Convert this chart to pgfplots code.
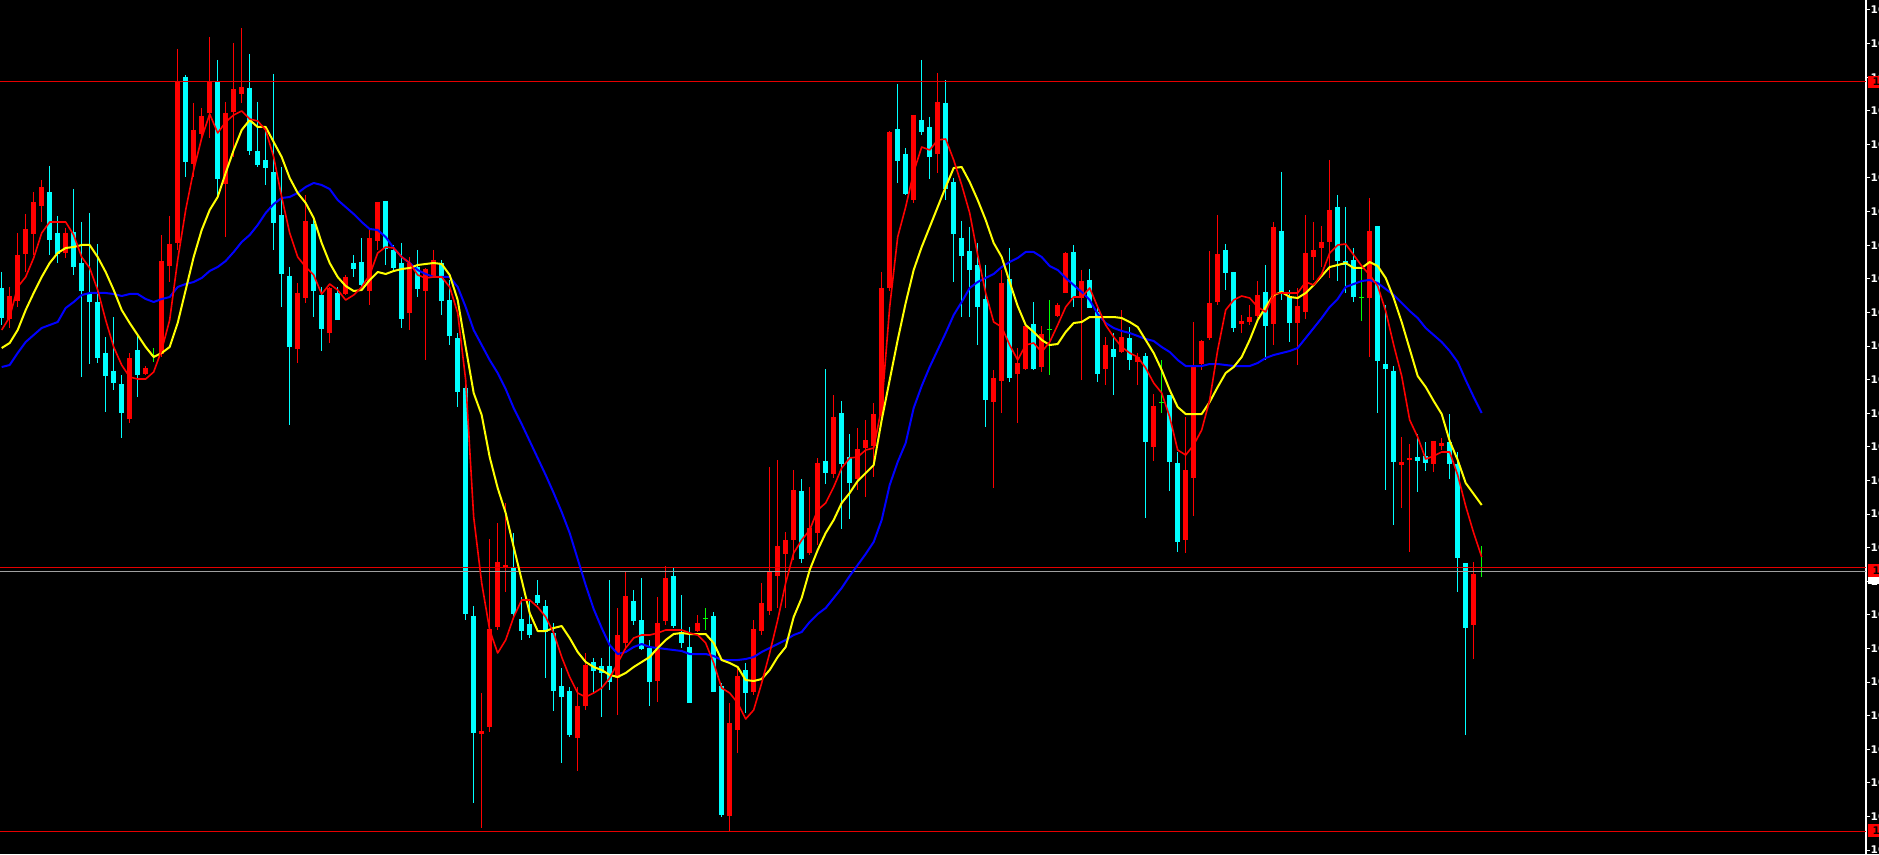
\documentclass[border=0pt]{standalone}
\usepackage{pgfplots}
\pgfplotsset{compat=1.18}
\usepackage{pgfplotstable}
\usepackage{fontspec}
\setmainfont{DejaVu Sans}

\definecolor{upc}{RGB}{255,0,0}
\definecolor{dnc}{RGB}{0,255,255}
\definecolor{dojic}{RGB}{0,255,0}
\definecolor{maf}{RGB}{255,0,0}
\definecolor{mam}{RGB}{255,255,0}
\definecolor{mas}{RGB}{0,0,255}
\definecolor{lvl}{RGB}{230,0,0}
\definecolor{bidc}{RGB}{160,160,160}

\pgfplotsset{
  isdown/.style={restrict expr to domain={\thisrow{t}}{-0.5:0.5}},
  isup/.style={restrict expr to domain={\thisrow{t}}{0.5:1.5}},
  isdoji/.style={restrict expr to domain={\thisrow{t}}{1.5:2.5}},
  wick/.style={line width=0.1mm, line cap=butt,
    quiver={u=0, v=\thisrow{lo}-\thisrow{hi}}},
  body/.style={line width=0.5mm, line cap=butt,
    quiver={u=0, v=\thisrow{bot}-\thisrow{top}+1}},
}

% candles: index, body top, body bottom, high, low (screen rows, top = 0)
% t = 1 up (red), 0 down (cyan), 2 doji
\pgfplotstableread{
i top bot hi lo t
0 288 317 272 325 0
1 296 318 287 328 1
2 255 300 233 307 1
3 229 253 214 272 1
4 202 233 192 255 1
5 187 205 180 222 1
6 192 239 166 255 0
7 233 253 216 263 0
8 233 252 228 258 1
9 232 266 189 275 0
10 263 290 222 377 0
11 294 301 213 364 0
12 302 357 244 363 0
13 353 375 337 412 0
14 371 382 317 390 0
15 384 412 375 438 0
16 358 418 353 423 1
17 350 374 335 397 0
18 368 373 366 375 1
19 355 355 348 362 2
20 261 353 235 357 1
21 244 265 216 282 1
22 82 242 49 250 1
23 77 161 75 177 0
24 130 163 103 177 1
25 116 133 108 138 1
26 82 112 37 138 1
27 82 178 60 195 0
28 113 183 102 237 1
29 89 111 43 157 1
30 87 93 28 103 1
31 88 150 54 155 0
32 151 164 102 167 0
33 160 167 130 185 0
34 172 222 74 250 0
35 215 273 167 307 0
36 276 346 267 425 0
37 293 348 283 363 1
38 221 297 195 303 1
39 224 290 217 317 0
40 295 328 287 351 0
41 288 332 287 343 1
42 293 319 287 320 0
43 277 293 275 295 1
44 263 268 255 277 0
45 262 284 238 290 0
46 238 290 230 305 1
47 202 240 202 250 1
48 201 248 201 265 0
49 250 267 245 270 0
50 263 318 243 328 0
51 263 312 257 330 1
52 267 288 250 297 0
53 269 290 268 360 1
54 260 275 250 278 1
55 263 300 260 315 0
56 300 335 280 345 0
57 338 391 333 407 0
58 388 613 385 620 0
59 616 732 606 803 0
60 731 733 693 828 1
61 629 726 539 732 1
62 562 626 523 630 1
63 565 567 503 592 1
64 568 613 533 617 0
65 619 630 597 640 0
66 624 634 600 638 0
67 595 602 580 605 0
68 606 631 600 678 0
69 633 690 623 711 0
70 686 696 668 763 0
71 691 734 687 737 0
72 706 737 687 771 1
73 665 705 653 710 1
74 662 670 658 693 0
75 666 672 658 717 0
76 666 681 580 690 0
77 635 677 608 715 1
78 596 642 572 650 1
79 601 620 590 625 0
80 620 648 578 650 0
81 648 681 640 706 0
82 623 680 597 702 1
83 578 620 566 625 1
84 576 625 568 628 0
85 632 642 595 648 0
86 647 702 627 702 0
87 623 630 615 632 1
88 618 618 608 630 2
89 616 691 612 692 0
90 686 814 683 817 0
91 723 815 703 831 1
92 676 729 668 753 1
93 670 692 663 713 0
94 629 691 620 695 1
95 603 630 583 635 1
96 572 610 467 615 1
97 546 575 460 608 1
98 540 553 532 608 1
99 490 539 470 560 1
100 491 558 479 563 0
101 528 552 487 555 1
102 463 532 458 545 1
103 461 472 369 484 0
104 417 473 395 478 1
105 413 463 401 529 0
106 457 482 434 519 0
107 449 478 428 490 1
108 440 447 420 497 1
109 414 445 403 477 1
110 288 414 272 420 1
111 132 287 131 291 1
112 129 160 84 183 0
113 154 193 148 195 0
114 115 199 115 203 1
115 120 131 60 135 0
116 127 156 117 179 0
117 102 153 73 173 1
118 103 188 80 200 0
119 182 233 178 282 0
120 238 255 221 317 0
121 251 269 227 317 0
122 265 306 243 345 0
123 299 399 265 427 0
124 378 401 370 488 1
125 283 380 270 413 1
126 279 377 248 382 0
127 363 373 348 423 1
128 326 368 325 370 1
129 324 368 302 370 0
130 334 366 326 372 1
131 329 329 300 375 2
132 305 315 303 317 1
133 253 292 252 293 1
134 252 297 245 307 0
135 281 297 270 380 1
136 280 307 269 307 0
137 312 373 307 382 0
138 345 368 337 385 1
139 349 356 333 395 0
140 337 351 310 353 1
141 338 359 327 370 0
142 357 361 353 385 1
143 356 441 353 518 0
144 406 446 394 461 1
145 402 402 360 413 2
146 395 461 395 491 0
147 463 541 452 552 0
148 470 539 417 553 1
149 365 477 322 516 1
150 341 363 340 370 1
151 303 337 251 340 1
152 254 301 215 305 1
153 250 272 244 290 0
154 272 327 272 332 0
155 321 323 315 333 1
156 317 321 305 325 1
157 295 315 281 318 1
158 292 325 265 360 0
159 227 323 222 345 1
160 231 292 172 300 0
161 297 322 290 342 0
162 306 322 288 365 1
163 253 311 215 319 1
164 250 256 222 280 1
165 242 247 226 267 1
166 210 241 160 278 1
167 207 260 195 281 0
168 261 264 207 293 0
169 260 296 248 302 0
170 298 298 265 321 2
171 231 297 198 357 1
172 226 360 226 413 0
173 364 368 305 490 0
174 371 461 366 525 0
175 462 464 437 508 1
176 458 459 444 552 1
177 457 460 434 492 0
178 456 462 442 471 0
179 441 463 441 472 1
180 443 445 438 450 1
181 442 463 414 479 0
182 464 557 452 592 0
183 563 627 563 735 0
184 574 624 562 659 1
185 571 571 546 577 2
}\candles

% fast MA (red)
\pgfplotstableread[row sep=\\]{
i y\\ 0 330\\ 1 317\\ 2 287\\ 3 277\\ 4 258\\ 5 233\\ 6 222\\ 7 222\\ 8 222\\ 9 235\\
10 257\\ 11 268\\ 12 290\\ 13 320\\ 14 347\\ 15 365\\ 16 377\\ 17 379\\ 18 379\\ 19 372\\
20 350\\ 21 320\\ 22 260\\ 23 210\\ 24 170\\ 25 138\\ 26 114\\ 27 133\\ 28 122\\ 29 115\\
30 111\\ 31 119\\ 32 121\\ 33 130\\ 34 157\\ 35 197\\ 36 233\\ 37 257\\ 38 267\\ 39 275\\
40 294\\ 41 284\\ 42 290\\ 43 300\\ 44 295\\ 45 287\\ 46 275\\ 47 253\\ 48 247\\ 49 248\\
50 257\\ 51 263\\ 52 275\\ 53 278\\ 54 277\\ 55 277\\ 56 287\\ 57 313\\ 58 380\\ 59 517\\
60 583\\ 61 630\\ 62 653\\ 63 640\\ 64 617\\ 65 600\\ 66 600\\ 67 607\\ 68 617\\ 69 633\\
70 657\\ 71 677\\ 72 693\\ 73 697\\ 74 693\\ 75 688\\ 76 678\\ 77 663\\ 78 648\\ 79 638\\
80 635\\ 81 635\\ 82 633\\ 83 630\\ 84 630\\ 85 630\\ 86 633\\ 87 635\\ 88 643\\ 89 663\\
90 688\\ 91 693\\ 92 703\\ 93 719\\ 94 710\\ 95 683\\ 96 653\\ 97 620\\ 98 583\\ 99 553\\
100 540\\ 101 530\\ 102 510\\ 103 503\\ 104 487\\ 105 468\\ 106 458\\ 107 457\\ 108 450\\ 109 448\\
110 407\\ 111 307\\ 112 237\\ 113 207\\ 114 172\\ 115 147\\ 116 150\\ 117 140\\ 118 139\\ 119 160\\
120 185\\ 121 213\\ 122 255\\ 123 293\\ 124 322\\ 125 327\\ 126 345\\ 127 360\\ 128 345\\ 129 343\\
130 352\\ 131 342\\ 132 325\\ 133 307\\ 134 297\\ 135 297\\ 136 288\\ 137 307\\ 138 325\\ 139 337\\
140 347\\ 141 353\\ 142 357\\ 143 368\\ 144 383\\ 145 393\\ 146 417\\ 147 450\\ 148 455\\ 149 445\\
150 430\\ 151 400\\ 152 350\\ 153 310\\ 154 300\\ 155 296\\ 156 298\\ 157 307\\ 158 312\\ 159 294\\
160 293\\ 161 293\\ 162 293\\ 163 282\\ 164 285\\ 165 274\\ 166 253\\ 167 245\\ 168 244\\ 169 255\\
170 266\\ 171 275\\ 172 286\\ 173 311\\ 174 345\\ 175 376\\ 176 420\\ 177 437\\ 178 459\\ 179 456\\
180 452\\ 181 452\\ 182 475\\ 183 506\\ 184 533\\ 185 557\\
}\mafast

% middle MA (yellow)
\pgfplotstableread[row sep=\\]{
i y\\ 0 348\\ 1 343\\ 2 330\\ 3 310\\ 4 293\\ 5 277\\ 6 263\\ 7 253\\ 8 248\\ 9 247\\
10 245\\ 11 245\\ 12 257\\ 13 272\\ 14 290\\ 15 310\\ 16 323\\ 17 335\\ 18 347\\ 19 357\\
20 353\\ 21 347\\ 22 323\\ 23 290\\ 24 257\\ 25 230\\ 26 210\\ 27 197\\ 28 173\\ 29 150\\
30 130\\ 31 120\\ 32 127\\ 33 127\\ 34 142\\ 35 157\\ 36 178\\ 37 193\\ 38 203\\ 39 218\\
40 243\\ 41 263\\ 42 277\\ 43 286\\ 44 291\\ 45 290\\ 46 280\\ 47 272\\ 48 274\\ 49 271\\
50 269\\ 51 268\\ 52 265\\ 53 264\\ 54 263\\ 55 264\\ 56 275\\ 57 300\\ 58 347\\ 59 393\\
60 415\\ 61 457\\ 62 488\\ 63 513\\ 64 547\\ 65 580\\ 66 613\\ 67 631\\ 68 631\\ 69 628\\
70 626\\ 71 638\\ 72 652\\ 73 662\\ 74 667\\ 75 670\\ 76 675\\ 77 677\\ 78 673\\ 79 667\\
80 662\\ 81 657\\ 82 648\\ 83 640\\ 84 634\\ 85 633\\ 86 634\\ 87 634\\ 88 634\\ 89 643\\
90 660\\ 91 663\\ 92 667\\ 93 680\\ 94 681\\ 95 679\\ 96 670\\ 97 657\\ 98 647\\ 99 617\\
100 598\\ 101 570\\ 102 550\\ 103 533\\ 104 520\\ 105 503\\ 106 493\\ 107 481\\ 108 473\\ 109 465\\
110 420\\ 111 380\\ 112 340\\ 113 303\\ 114 270\\ 115 247\\ 116 227\\ 117 207\\ 118 187\\ 119 168\\
120 167\\ 121 182\\ 122 200\\ 123 220\\ 124 243\\ 125 257\\ 126 282\\ 127 306\\ 128 325\\ 129 332\\
130 340\\ 131 345\\ 132 344\\ 133 332\\ 134 323\\ 135 322\\ 136 317\\ 137 317\\ 138 317\\ 139 317\\
140 318\\ 141 322\\ 142 327\\ 143 340\\ 144 353\\ 145 370\\ 146 390\\ 147 407\\ 148 414\\ 149 414\\
150 414\\ 151 402\\ 152 387\\ 153 373\\ 154 367\\ 155 357\\ 156 340\\ 157 320\\ 158 307\\ 159 295\\
160 292\\ 161 297\\ 162 298\\ 163 293\\ 164 285\\ 165 276\\ 166 267\\ 167 265\\ 168 263\\ 169 268\\
170 268\\ 171 262\\ 172 266\\ 173 278\\ 174 298\\ 175 322\\ 176 349\\ 177 376\\ 178 387\\ 179 401\\
180 414\\ 181 441\\ 182 460\\ 183 483\\ 184 494\\ 185 505\\
}\mamid

% slow MA (blue)
\pgfplotstableread[row sep=\\]{
i y\\ 0 367\\ 1 365\\ 2 353\\ 3 342\\ 4 335\\ 5 328\\ 6 325\\ 7 322\\ 8 308\\ 9 302\\
10 295\\ 11 293\\ 12 293\\ 13 293\\ 14 294\\ 15 296\\ 16 294\\ 17 294\\ 18 299\\ 19 302\\
20 299\\ 21 297\\ 22 287\\ 23 284\\ 24 282\\ 25 278\\ 26 271\\ 27 267\\ 28 261\\ 29 252\\
30 242\\ 31 235\\ 32 225\\ 33 213\\ 34 204\\ 35 198\\ 36 197\\ 37 193\\ 38 187\\ 39 183\\
40 185\\ 41 189\\ 42 200\\ 43 207\\ 44 214\\ 45 222\\ 46 229\\ 47 230\\ 48 237\\ 49 248\\
50 257\\ 51 263\\ 52 270\\ 53 274\\ 54 277\\ 55 277\\ 56 277\\ 57 287\\ 58 307\\ 59 330\\
60 345\\ 61 360\\ 62 373\\ 63 389\\ 64 408\\ 65 424\\ 66 441\\ 67 458\\ 68 475\\ 69 493\\
70 512\\ 71 533\\ 72 559\\ 73 585\\ 74 609\\ 75 628\\ 76 645\\ 77 654\\ 78 652\\ 79 647\\
80 644\\ 81 647\\ 82 648\\ 83 649\\ 84 650\\ 85 651\\ 86 654\\ 87 654\\ 88 654\\ 89 656\\
90 660\\ 91 660\\ 92 660\\ 93 659\\ 94 657\\ 95 652\\ 96 648\\ 97 644\\ 98 640\\ 99 635\\
100 632\\ 101 622\\ 102 614\\ 103 608\\ 104 598\\ 105 588\\ 106 576\\ 107 565\\ 108 554\\ 109 542\\
110 520\\ 111 485\\ 112 462\\ 113 443\\ 114 408\\ 115 386\\ 116 367\\ 117 350\\ 118 333\\ 119 315\\
120 302\\ 121 288\\ 122 282\\ 123 278\\ 124 274\\ 125 267\\ 126 262\\ 127 258\\ 128 252\\ 129 252\\
130 257\\ 131 266\\ 132 270\\ 133 278\\ 134 285\\ 135 292\\ 136 300\\ 137 314\\ 138 323\\ 139 328\\
140 331\\ 141 333\\ 142 336\\ 143 339\\ 144 341\\ 145 347\\ 146 352\\ 147 360\\ 148 366\\ 149 366\\
150 366\\ 151 364\\ 152 364\\ 153 365\\ 154 366\\ 155 366\\ 156 366\\ 157 363\\ 158 358\\ 159 355\\
160 353\\ 161 351\\ 162 348\\ 163 338\\ 164 328\\ 165 318\\ 166 307\\ 167 299\\ 168 287\\ 169 284\\
170 281\\ 171 280\\ 172 283\\ 173 289\\ 174 295\\ 175 303\\ 176 311\\ 177 318\\ 178 328\\ 179 335\\
180 342\\ 181 351\\ 182 362\\ 183 380\\ 184 397\\ 185 413\\
}\maslow

\newcommand\tickfont{\fontsize{3pt}{3.5pt}\selectfont\bfseries}

\begin{document}
\begin{tikzpicture}
\path[use as bounding box] (0,0) rectangle (18.79cm,8.54cm);
\clip (0,0) rectangle (18.79cm,8.54cm);
\fill[black] (0,0) rectangle (18.79cm,8.54cm);
\begin{axis}[
  at={(0,0)}, anchor=south west,
  scale only axis, width=18.66cm, height=8.54cm,
  xmin=-0.21, xmax=233.04, ymin=0, ymax=854, y dir=reverse,
  axis x line=none,
  axis y line*=right,
  axis line style={white, line width=0.13mm, -},
  ytick={10,43.6,...,851},
  yticklabels={10675,10670,10665,10660,10655,10650,10645,10640,10635,10630,10625,10620,10615,
               10610,10605,10600,10595,10590,10585,10580,10575,10570,10565,10560,10555,10550},
  tick align=outside, major tick length=0.4mm,
  tick style={white, line width=0.1mm},
  yticklabel style={text=white, font=\tickfont, inner sep=0pt, anchor=west},
  clip mode=individual,
]
% wicks
\addplot[upc, wick, forget plot, isup] table[x=i, y=hi] {\candles};
\addplot[dnc, wick, forget plot, isdown] table[x=i, y=hi] {\candles};
\addplot[dojic, wick, forget plot, isdoji] table[x=i, y=hi] {\candles};
% bodies
\addplot[upc, body, forget plot, isup] table[x=i, y=top] {\candles};
\addplot[dnc, body, forget plot, isdown] table[x=i, y=top] {\candles};
\addplot[dojic, only marks, mark=-, mark size=0.25mm, forget plot, isdoji,
  mark options={line width=0.1mm}] table[x=i, y=top] {\candles};

% horizontal levels
\addplot[lvl, line width=0.1mm, forget plot] coordinates {(-0.21,82) (233.04,82)};
\addplot[lvl, line width=0.1mm, forget plot] coordinates {(-0.21,567) (233.04,567)};
\addplot[bidc, line width=0.1mm, forget plot] coordinates {(-0.21,571) (233.04,571)};
\addplot[lvl, line width=0.1mm, forget plot] coordinates {(-0.21,831) (233.04,831)};

% moving averages
\addplot[mas, line width=0.2mm, line join=round] table[x=i, y=y] {\maslow};
\addplot[mam, line width=0.2mm, line join=round] table[x=i, y=y] {\mamid};
\addplot[maf, line width=0.16mm, line join=round] table[x=i, y=y] {\mafast};
\end{axis}

% price labels at the right edge (pixel grid, origin top left)
\begin{scope}[x=0.1mm, y=-0.1mm, shift={(0,8.54cm)}]
  \fill[upc] (1867.5,76) rectangle (1890,88);
  \node[anchor=west, inner sep=0pt, font=\tickfont, text=black] at (1872,82) {10663};
  \fill[white] (1867.5,576) rectangle (1890,584);
  \fill[upc] (1867.5,564) rectangle (1890,577);
  \node[anchor=west, inner sep=0pt, font=\tickfont, text=black] at (1872,571) {10590};
  \fill[upc] (1867.5,824) rectangle (1890,837);
  \node[anchor=west, inner sep=0pt, font=\tickfont, text=black] at (1872,831) {10552};
\end{scope}
\end{tikzpicture}
\end{document}
